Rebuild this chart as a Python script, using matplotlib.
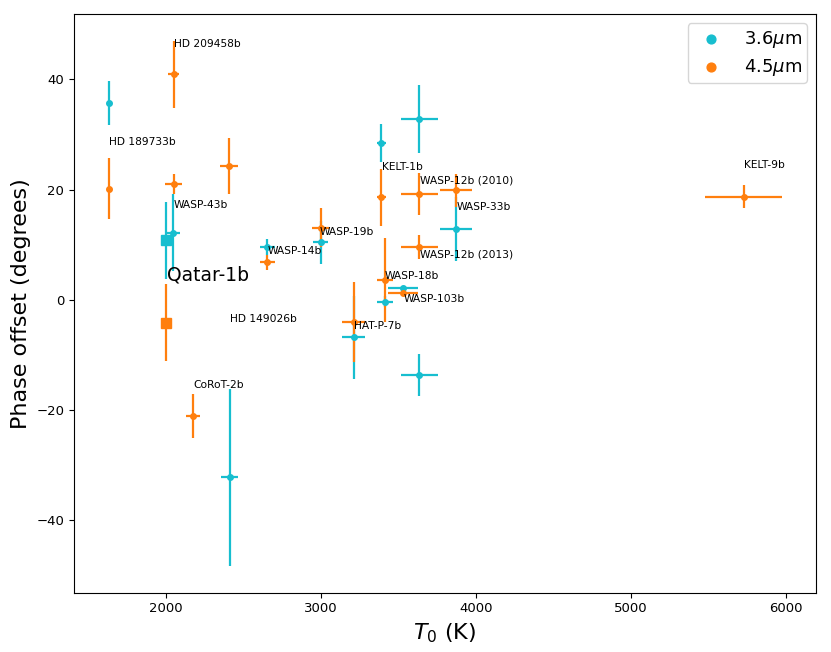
import numpy as np
import matplotlib
matplotlib.use('Agg')
import matplotlib.pyplot as plt

# 3.6 micron phase offsets (T0 in K, offset in degrees)
blue_T = [1634, 2048, 2654, 2998, 3391, 3635, 3875, 3531, 3413, 3211, 3635, 2411]
blue_off = [35.8, 12.2, 9.6, 10.5, 28.5, 32.8, 12.9, 2.1, -0.3, -6.8, -13.6, -32.2]
blue_yerr = [4.0, 7.0, 1.5, 3.9, 3.5, 6.2, 5.8, 0.5, 1.0, 7.5, 3.8, 16.0]
blue_xerr = [0, 40, 50, 50, 28, 120, 103, 99, 50, 75, 120, 55]

# 4.5 micron phase offsets
orange_T = [1634, 2051, 2408, 2051, 2175, 2654, 2998, 3391, 3635, 3875, 3635, 3413, 3531, 3211, 5729]
orange_off = [20.2, 40.9, 24.3, 21.1, -21.0, 6.8, 13.1, 18.6, 19.2, 19.9, 9.6, 3.6, 1.2, -4.0, 18.7]
orange_yerr = [5.5, 6.0, 5.0, 1.8, 4.0, 1.3, 3.5, 5.2, 3.8, 3.0, 2.2, 7.6, 0.5, 7.3, 2.1]
orange_xerr = [0, 35, 60, 55, 43, 48, 52, 30, 120, 103, 120, 52, 99, 75, 250]

# Qatar-1b (highlighted)
qatar_T = 2000
qatar_off = [10.8, -4.1]
qatar_yerr = [7.0, 7.0]

# planet name labels and where they sit
names = ['HD 189733b', 'HD 209458b', 'WASP-43b', 'HD 149026b', 'CoRoT-2b',
         'WASP-14b', 'WASP-19b', 'KELT-1b', 'WASP-12b (2010)', 'WASP-33b',
         'WASP-12b (2013)', 'WASP-18b', 'WASP-103b', 'HAT-P-7b', 'KELT-9b']
name_T = [1634, 2055, 2051, 2411, 2175, 2654, 2993, 3394, 3637, 3877,
          3637, 3414, 3534, 3212, 5733]
name_y = [28.6, 46.5, 17.3, -3.4, -15.4, 8.8, 12.3, 24.1, 21.7, 16.9,
          8.3, 4.3, 0.1, -4.8, 24.4]

BLUE = '#17becf'
ORANGE = '#ff7f0e'


def main():
    fig = plt.figure(figsize=(8.31, 6.52), dpi=100)
    ax = fig.add_axes([0.089, 0.091, 0.893, 0.887])

    ax.errorbar(blue_T, blue_off, yerr=blue_yerr, xerr=blue_xerr,
                fmt='o', ms=4, color=BLUE, elinewidth=1.6)
    ax.errorbar(orange_T, orange_off, yerr=orange_yerr, xerr=orange_xerr,
                fmt='o', ms=4, color=ORANGE, elinewidth=1.6)

    # Qatar-1b gets bigger markers
    ax.errorbar([qatar_T], [qatar_off[0]], yerr=[qatar_yerr[0]],
                fmt='s', ms=7, color=BLUE, elinewidth=1.6)
    ax.errorbar([qatar_T], [qatar_off[1]], yerr=[qatar_yerr[1]],
                fmt='s', ms=7, color=ORANGE, elinewidth=1.6)

    for n, t, y in zip(names, name_T, name_y):
        ax.text(t, y, n, fontsize=7.7, ha='left', va='center')
    ax.text(2007, 4.6, 'Qatar-1b', fontsize=13.5, ha='left', va='center')

    # legend only shows dots
    ax.scatter([], [], color=BLUE, s=40, label=r'3.6$\mu$m')
    ax.scatter([], [], color=ORANGE, s=40, label=r'4.5$\mu$m')
    ax.legend(loc='upper right', fontsize=13, borderpad=0.3, labelspacing=0.38)

    ax.set_xlim(1406, 6197)
    ax.set_ylim(-53.1, 51.8)
    ax.set_yticks([-40, -20, 0, 20, 40])
    ax.tick_params(labelsize=9.5)
    ax.set_xlabel(r'$T_0$ (K)', fontsize=16)
    ax.set_ylabel('Phase offset (degrees)', fontsize=16)

    fig.savefig('out.png', dpi=100)


if __name__ == '__main__':
    main()
